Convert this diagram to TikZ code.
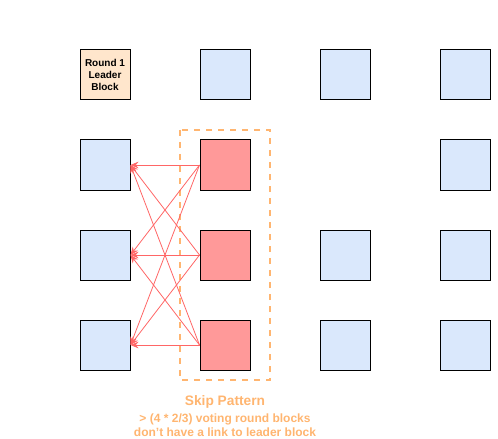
\documentclass[tikz,border=0pt]{standalone}
\usepackage{fontspec}
\setmainfont{Liberation Sans}
\usepackage{tikz}
\usetikzlibrary{arrows.meta}

\definecolor{leaderfill}{RGB}{255,230,204}
\definecolor{blockfill}{RGB}{218,232,252}
\definecolor{skipfill}{RGB}{255,153,153}
\definecolor{linkred}{RGB}{255,102,102}
\definecolor{skiporange}{RGB}{255,181,112}

\tikzset{
  block/.style={draw=black, line width=0.75pt, fill=blockfill, minimum width=37.5pt, minimum height=37.5pt, inner sep=0pt},
  leader/.style={block, fill=leaderfill, font=\bfseries\fontsize{7.5}{9}\selectfont, align=center},
  skipblock/.style={block, fill=skipfill},
  link/.style={draw=linkred, line width=0.6pt, -{Stealth[length=6pt, width=5pt, inset=2pt]}},
}

\begin{document}
\begin{tikzpicture}[x=0.75pt,y=0.75pt,yscale=-1,xscale=1]
        \useasboundingbox (0,0) rectangle (498,438);

        %Dashed Box [skip pattern]
        \draw [draw=skiporange, line width=1.2pt, dash pattern=on 4.5pt off 4.5pt] (180,130) rectangle (270,380);

        %Row 1
        \node [leader] (lead) at (105,75) {Round 1\\Leader\\Block};
        \node [block] (b12) at (225,75) {};
        \node [block] (b13) at (345,75) {};
        \node [block] (b14) at (465,75) {};
        %Row 2
        \node [block] (b21) at (105,165) {};
        \node [skipblock] (s22) at (225,165) {};
        \node [block] (b24) at (465,165) {};
        %Row 3
        \node [block] (b31) at (105,255) {};
        \node [skipblock] (s32) at (225,255) {};
        \node [block] (b33) at (345,255) {};
        \node [block] (b34) at (465,255) {};
        %Row 4
        \node [block] (b41) at (105,345) {};
        \node [skipblock] (s42) at (225,345) {};
        \node [block] (b43) at (345,345) {};
        \node [block] (b44) at (465,345) {};

        %Links from skipped blocks back to first column
        \foreach \s in {s22,s32,s42} {
          \foreach \b in {b21,b31,b41} {
            \draw [link] (\s.west) -- (\b.east);
          }
        }

        % Text Node
        \node [text=skiporange, font=\bfseries\fontsize{10.3}{12}\selectfont] (skiptitle) at (225,402) {Skip Pattern};
        % Text Node
        \node [text=skiporange, font=\bfseries\fontsize{9}{10.5}\selectfont, align=center] (skipnote) at (225,425) {> (4 * 2/3) voting round blocks\\don\char"0027 t have a link to leader block};
\end{tikzpicture}
\end{document}
